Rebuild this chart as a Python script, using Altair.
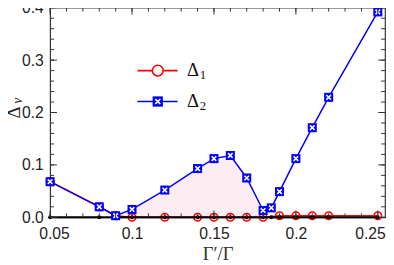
import altair as alt
import pandas as pd

# ---- data ----
gamma = [0.05, 0.08, 0.09, 0.10, 0.12, 0.14, 0.15, 0.16, 0.17, 0.18, 0.185, 0.19, 0.20, 0.21, 0.22, 0.25]
delta2 = [0.068, 0.020, 0.003, 0.015, 0.052, 0.093, 0.112, 0.118, 0.075, 0.013, 0.018, 0.049, 0.112, 0.171, 0.229, 0.392]
delta1 = [0.068, 0.020, 0.003, 0.0, 0.0, 0.0, 0.0, 0.0, 0.0, 0.0, None, 0.003, 0.003, 0.003, 0.003, 0.003]
delta0 = [0.0] * len(gamma)
shade_from, shade_to = 0.10, 0.18

x_major = [0.05, 0.10, 0.15, 0.20, 0.25]
x_minor = [round(0.05 + 0.01 * i, 2) for i in range(21)]
y_major = [0.0, 0.1, 0.2, 0.3, 0.4]
y_minor = [round(0.02 * i, 2) for i in range(21)]

legend_names = ["Δ", "Δ"]
legend_subs = ["1", "2"]
legend_y = [0.280, 0.221]
legend_x_line = [0.1033, 0.1278]
legend_x_sym = 0.1157
legend_x_text = 0.1336

W, H = 342, 214
xdom = [0.05, 0.2544]
ydom = [0.0, 0.4]

df = pd.DataFrame({"g": gamma, "d2": delta2, "d1": delta1, "d0": delta0})
shade = df[(df.g >= shade_from) & (df.g <= shade_to)]
d1df = df.dropna(subset=["d1"])

xs = alt.Scale(domain=xdom, nice=False, zero=False)
ys = alt.Scale(domain=ydom, nice=False, zero=False)

xaxis = alt.Axis(values=x_major, format="~g", ticks=False, domain=False, grid=False,
                 labelFont="Liberation Sans", labelFontSize=16, labelColor="#222",
                 labelPadding=9, labelFlush=False,
                 labelOffset={"condition": [{"test": "datum.value < 0.06", "value": 4},
                                            {"test": "datum.value > 0.24", "value": -8}],
                              "value": 0},
                 titleFont="Liberation Serif", titleFontSize=19, titleFontWeight="normal",
                 titleColor="#333", titlePadding=3)
yaxis = alt.Axis(values=y_major, format=".1f", ticks=False, domain=False, grid=False,
                 labelFont="Liberation Sans", labelFontSize=16, labelColor="#222",
                 labelPadding=7, labelFlush=False)


def X(f="g"):
    return alt.X(f"{f}:Q", scale=xs, axis=xaxis, title="Γ′/Γ")


def Y(f):
    return alt.Y(f"{f}:Q", scale=ys, axis=yaxis, title=None)


base = alt.Chart(df)

area = alt.Chart(shade).mark_area(color="#fcedf2", opacity=1).encode(
    x=X(), y=Y("d2"), y2=alt.Y2("d0"))

red_line = alt.Chart(d1df).mark_line(color="#ff0000", strokeWidth=1.6).encode(x=X(), y=Y("d1"))
red_pts = alt.Chart(d1df).mark_point(shape="circle", size=60, filled=False, color="#ff0000",
                                     strokeWidth=1.6, opacity=1).encode(x=X(), y=Y("d1"))
blk_line = base.mark_line(color="black", strokeWidth=2).encode(x=X(), y=Y("d0"))
blk_pts = base.mark_point(shape="circle", size=16, filled=True, color="black", opacity=1).encode(x=X(), y=Y("d0"))
blue_line = base.mark_line(color="#0000ff", strokeWidth=1.5).encode(x=X(), y=Y("d2"))
blue_sq = base.mark_point(shape="square", size=85, filled=True, color="#0000ff", opacity=1).encode(x=X(), y=Y("d2"))
XPATH = "M-1,-1L1,1M1,-1L-1,1"
blue_x = base.mark_point(shape=XPATH, size=22, filled=False, stroke="white", strokeWidth=1.6,
                         opacity=1).encode(x=X(), y=Y("d2"))

# ticks drawn inward on all four sides
xmaj = pd.DataFrame({"v": x_major}); xmin = pd.DataFrame({"v": x_minor})
ymaj = pd.DataFrame({"v": y_major}); ymin = pd.DataFrame({"v": y_minor})
tk = dict(color="#333", strokeWidth=1)
ticks = alt.layer(
    alt.Chart(xmaj).mark_rule(**tk).encode(x=X("v"), y=alt.value(H), y2=alt.value(H - 7)),
    alt.Chart(xmaj).mark_rule(**tk).encode(x=X("v"), y=alt.value(0), y2=alt.value(7)),
    alt.Chart(xmin).mark_rule(**tk).encode(x=X("v"), y=alt.value(H), y2=alt.value(H - 4)),
    alt.Chart(xmin).mark_rule(**tk).encode(x=X("v"), y=alt.value(0), y2=alt.value(4)),
    alt.Chart(ymaj).mark_rule(**tk).encode(y=Y("v"), x=alt.value(0), x2=alt.value(7)),
    alt.Chart(ymaj).mark_rule(**tk).encode(y=Y("v"), x=alt.value(W), x2=alt.value(W - 7)),
    alt.Chart(ymin).mark_rule(**tk).encode(y=Y("v"), x=alt.value(0), x2=alt.value(4)),
    alt.Chart(ymin).mark_rule(**tk).encode(y=Y("v"), x=alt.value(W), x2=alt.value(W - 4)),
)

# legend
leg = pd.DataFrame({
    "y": legend_y, "x1": [legend_x_line[0]] * 2, "x2": [legend_x_line[1]] * 2,
    "xs": [legend_x_sym] * 2, "xt": [legend_x_text] * 2,
    "name": legend_names, "sub": legend_subs,
})
leg1 = leg.iloc[[0]]; leg2 = leg.iloc[[1]]
legend = alt.layer(
    alt.Chart(leg1).mark_rule(color="#ff0000", strokeWidth=1.6).encode(x=X("x1"), x2="x2", y=Y("y")),
    alt.Chart(leg1).mark_point(shape="circle", size=120, filled=True, fill="white", stroke="#ff0000",
                               strokeWidth=1.6, opacity=1).encode(x=X("xs"), y=Y("y")),
    alt.Chart(leg2).mark_rule(color="#0000ff", strokeWidth=1.6).encode(x=X("x1"), x2="x2", y=Y("y")),
    alt.Chart(leg2).mark_point(shape="square", size=110, filled=True, color="#0000ff", opacity=1).encode(x=X("xs"), y=Y("y")),
    alt.Chart(leg2).mark_point(shape=XPATH, size=26, filled=False, stroke="white", strokeWidth=1.7,
                               opacity=1).encode(x=X("xs"), y=Y("y")),
    alt.Chart(leg).mark_text(font="Liberation Serif", fontSize=19, align="left", baseline="middle", color="#111")
        .encode(x=X("xt"), y=Y("y"), text="name:N"),
    alt.Chart(leg).mark_text(font="Liberation Serif", fontSize=13, align="left", baseline="middle", color="#111", dx=13, dy=5)
        .encode(x=X("xt"), y=Y("y"), text="sub:N"),
)

# y-axis title  Δ_v (drawn as rotated text in the left margin)
ytitle = pd.DataFrame({"y": [0.2], "t": ["Δ"], "s": ["v"]})
ylab = alt.layer(
    alt.Chart(ytitle).mark_text(font="Liberation Serif", fontSize=19, angle=270, baseline="middle",
                                align="center", color="#222")
        .encode(x=alt.value(-37), y=Y("y"), text="t:N"),
    alt.Chart(ytitle).mark_text(font="Liberation Serif", fontSize=14, fontStyle="italic", angle=270,
                                baseline="middle", align="center", color="#222")
        .encode(x=alt.value(-33), y=alt.value(H - 0.2 * H / 0.4 - 12), text="s:N"),
)

chart = alt.layer(area, red_line, red_pts, blk_line, blk_pts, blue_line, blue_sq, blue_x,
                  ticks, legend, ylab).properties(
    width=W, height=H,
    autosize=alt.AutoSizeParams(type="none"),
    padding={"left": 43, "top": -3, "right": 1, "bottom": 46},
).configure_view(stroke="#333", strokeWidth=1.2)

chart.save("out.html", embed_options={"renderer": "svg", "actions": False})
